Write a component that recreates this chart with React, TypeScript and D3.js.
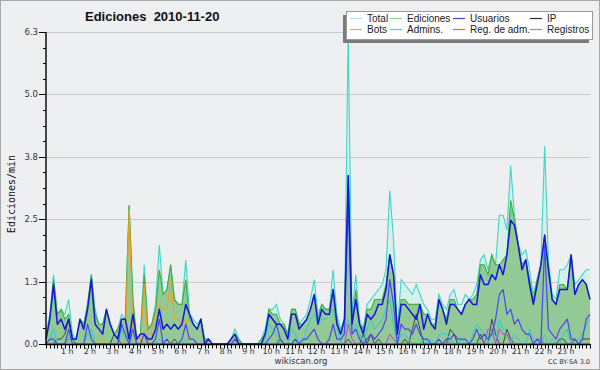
import React from 'react';
import * as d3 from 'd3';

const W = 600;
const H = 370;

const hourLabels = ['1 h','2 h','3 h','4 h','5 h','6 h','7 h','8 h','9 h','10 h','11 h','12 h','13 h','14 h','15 h','16 h','17 h','18 h','19 h','20 h','21 h','22 h','23 h'];
const yTickValues = [0, 1.26, 2.52, 3.78, 5.04, 6.3];
const yTickLabels = ['0.0', '1.3', '2.5', '3.8', '5.0', '6.3'];

// 10-minute slots, 00:00 .. 24:00 (edits per minute)
const total = [
  0.2,0.6,1.4,0.6,0.7,0.6, 0.9,0.2,0.1,0.5,0.4,0.8,
  1.4,0.7,0.4,0.4,0.7,0.4, 0.2,0.3,0.6,0.5,2.8,0.9,
  0.1,0.2,1.6,0.3,0.4,0.8, 2.0,1.0,1.1,1.6,0.9,0.8,
  0.8,1.7,0.6,0.5,0.4,0.5, 0.1,0.1,0,0,0,0,
  0,0.1,0.3,0.1,0,0, 0,0,0,0.1,0.3,0.7,
  0.7,0.8,0.5,0.4,0.2,0.7, 0.7,0.4,0.5,0.6,0.9,1.3,
  0.6,0.8,0.7,0.7,1.5,0.6, 0.3,0.5,6.3,0.6,1.4,0.5,
  0.3,0.8,0.9,1.0,1.1,1.2, 1.5,3.1,2.1,0.3,1.3,1.2,
  1.1,1.0,1.2,1.0,0.8,0.7, 0.5,0.5,1.0,0.8,0.7,1.0,
  1.1,0.8,0.8,1.0,0.9,1.0, 1.2,1.7,1.8,1.5,1.8,1.6,
  2.6,2.6,2.3,3.6,2.6,2.0, 1.8,1.9,1.5,1.0,1.3,1.6,
  4.0,1.7,1.0,0.9,1.5,1.5, 1.6,1.8,1.2,1.3,1.4,1.5,
  1.5
];
const ediciones = [
  0.1,0.5,1.3,0.6,0.7,0.5, 0.6,0.1,0.1,0.5,0.4,0.8,
  1.4,0.6,0.4,0.4,0.7,0.4, 0.2,0.3,0.5,0.5,2.8,0.9,
  0.1,0.2,1.4,0.3,0.4,0.7, 1.5,1.0,1.1,1.6,0.9,0.8,
  0.8,1.3,0.5,0.4,0.3,0.5, 0.1,0.1,0,0,0,0,
  0,0.1,0.2,0.1,0,0, 0,0,0,0.1,0.2,0.7,
  0.6,0.6,0.4,0.4,0.2,0.7, 0.7,0.4,0.4,0.5,0.7,1.0,
  0.5,0.8,0.7,0.7,1.1,0.5, 0.2,0.5,3.4,0.4,1.1,0.4,
  0.3,0.7,0.7,0.9,0.9,0.9, 1.2,1.8,1.4,0.3,0.9,0.9,
  0.8,0.8,0.8,0.8,0.6,0.6, 0.4,0.4,0.9,0.7,0.5,0.9,
  0.9,0.7,0.6,0.8,0.9,0.9, 1.0,1.6,1.6,1.4,1.8,1.6,
  1.6,1.7,1.8,2.9,2.5,2.0, 1.6,1.7,1.3,0.9,1.3,1.6,
  2.2,1.5,0.9,0.8,1.2,1.2, 1.1,1.8,1.0,1.2,1.3,1.2,
  0.9
];
const usuarios = [
  0.1,0.5,1.2,0.4,0.5,0.3, 0.5,0.1,0.1,0.5,0.3,0.7,
  1.3,0.4,0.3,0.2,0.7,0.4, 0.2,0.1,0.5,0.5,0.1,0.6,
  0.1,0.2,0.2,0.1,0.1,0.3, 0.7,0.3,0.4,0.3,0.4,0.3,
  0.4,0.8,0.6,0.4,0.3,0.5, 0,0.1,0,0,0,0,
  0,0.1,0.2,0,0,0, 0,0,0,0,0.2,0.6,
  0.5,0.4,0.4,0.3,0.1,0.6, 0.6,0.3,0.4,0.5,0.7,1.0,
  0.4,0.7,0.6,0.6,1.1,0.4, 0.2,0.5,3.4,0.4,0.9,0.4,
  0.2,0.6,0.5,0.6,0.8,0.8, 1.1,1.8,1.4,0.2,0.8,0.8,
  0.7,0.6,0.5,0.8,0.3,0.6, 0.4,0.3,0.9,0.7,0.4,0.8,
  0.8,0.7,0.6,0.8,0.9,0.8, 0.8,1.4,1.2,1.2,1.4,1.3,
  1.6,1.4,1.8,2.5,2.4,2.0, 1.5,1.7,1.2,0.8,1.2,1.6,
  2.2,1.5,0.9,0.8,1.1,1.1, 1.1,1.8,1.0,1.2,1.3,1.2,
  0.9
];
const ip = [
  0,0,0,0.1,0.1,0.2, 0.5,0.1,0,0,0,0,
  0,0,0,0,0,0, 0.2,0.1,0,0,0,0,
  0,0,0,0,0,0, 0,0,0,0,0.1,0,
  0,0,0,0,0,0, 0,0,0,0,0,0,
  0,0,0,0,0,0, 0,0,0,0,0,0,
  0,0,0.1,0,0,0, 0.1,0,0,0,0,0,
  0,0,0,0,0,0, 0,0,0.1,0,0,0,
  0.2,0,0.2,0,0.1,0, 0,0,0,0,0,0.1,
  0,0.3,0.6,0.3,0,0, 0,0,0,0,0,0.3,
  0.2,0,0,0,0,0, 0,0.2,0,0,0.5,0.2,
  0,0,0.3,0.1,0,0, 0,0,0,0,0,0,
  0,0,0,0,0.1,0.1, 0,0,0.1,0,0.1,0.1,
  0.1
];
const bots = [
  0,0,0,0,0,0, 0,0,0,0,0,0,
  0,0,0.1,0.1,0,0, 0,0,0,0,2.7,0.3,
  0,0,1.2,0,0.3,0.6, 0.8,0.7,0.7,1.3,0.5,0.5,
  0.4,0.5,0,0,0,0, 0,0,0,0,0,0,
  0,0,0,0,0,0, 0,0,0,0,0,0,
  0,0,0,0,0,0, 0,0,0,0,0,0,
  0,0,0,0,0,0, 0,0,0,0,0,0,
  0,0,0,0,0,0, 0,0,0,0,0,0,
  0,0,0,0,0,0, 0,0,0,0,0,0,
  0,0,0,0,0,0, 0,0,0,0,0,0,
  0,0,0,0,0,0, 0,0,0,0,0,0,
  0,0,0,0,0,0, 0,0,0,0,0,0,
  0
];
const admins = [
  0,0.1,0.3,0,0,0, 0.2,0,0,0,0,0.2,
  0.3,0,0,0,0,0, 0,0,0.3,0.1,0.2,0,
  0,0,0,0,0,0, 0.1,0,0,0,0,0,
  0,0.1,0,0,0,0, 0,0,0,0,0,0,
  0,0,0.1,0,0,0, 0,0,0,0,0.1,0.4,
  0.3,0.2,0,0,0,0.3, 0.2,0,0,0.3,0.5,0.6,
  0.4,0.5,0.5,0.6,0.7,0.4, 0,0.3,0.5,0.2,0.4,0.2,
  0,0.3,0.5,0.3,0.4,0.5, 0.7,0.9,0.4,0,0.2,0.2,
  0.1,0,0,0,0.1,0, 0.1,0,0.2,0.2,0.2,0.1,
  0,0,0.1,0,0,0.2, 0.4,0.3,0.2,0,0.3,0,
  0.5,0.3,0.2,0,0.2,0.1, 0,0,0.3,0.1,0,0,
  0.2,0,0.1,0,0,0.2, 0.3,0,0,0.1,0.2,0.4,
  0.5
];
const regAdm = [
  0,0,0,0,0,0, 0.1,0.1,0,0,0,0,
  0,0,0,0,0,0, 0,0,0,0,0,0,
  0,0,0,0,0,0, 0,0,0,0,0,0,
  0,0,0,0,0,0, 0,0,0,0,0,0,
  0,0,0,0,0,0, 0,0,0,0,0,0,
  0,0,0,0,0,0, 0,0,0,0,0,0,
  0,0,0,0,0,0, 0,0,0.4,0.1,0,0,
  0,0,0,0,0,0, 0,0.2,0.1,0,0,0,
  0,0,0,0,0,0, 0,0,0,0,0.1,0,
  0,0,0,0,0,0, 0,0,0,0.3,0.3,0,
  0.3,0.2,0.2,0,0,0, 0,0,0,0,0.1,0.1,
  0,0,0,0,0,0, 0,0,0,0,0,0,
  0
];
const registros = [
  0,0.1,0.1,0,0,0, 0.3,0,0,0,0,0.4,
  0.1,0,0,0,0,0, 0,0,0.4,0.2,0,0.3,
  0,0,0.2,0,0,0.1, 0.5,0,0.1,0,0,0,
  0.1,0.4,0.1,0.1,0,0, 0,0,0,0,0,0,
  0,0,0.1,0,0,0, 0,0,0,0,0,0.1,
  0.2,0.4,0.1,0,0,0, 0.1,0,0.1,0.1,0.2,0.3,
  0.1,0,0,0.1,0.4,0.1, 0.1,0.2,2.9,0.2,0.3,0.1,
  0,0.1,0.2,0.1,0.2,0.3, 0.5,1.3,0.8,0,0.4,0.3,
  0.3,0.2,0.4,0.2,0.1,0.1, 0,0,0.1,0,0.1,0.1,
  0.2,0.1,0.1,0.1,0,0.1, 0.3,0.1,0.2,0.1,0.2,0.5,
  1.0,1.1,0.6,0.7,0.4,0.5, 0.3,0.2,0.2,0,0.1,0,
  2.0,0.3,0.2,0.1,0.3,0.4, 0.5,0.1,0.1,0,0.1,0.5,
  0.6
];

const legendNames = ['Total', 'Ediciones', 'Usuarios', 'IP', 'Bots', 'Admins.', 'Reg. de adm.', 'Registros'];
const legendColors = ['#a6e6df', '#8fd48f', '#4646d6', '#303030', '#f5a544', '#4ccfe0', '#cf4fe6', '#8686ef'];

const FONT = '"DejaVu Sans", Verdana, sans-serif';
const NARROW = '"Liberation Sans", Arial, sans-serif';

export default function App() {
  const x = d3.scaleLinear().domain([0, 144]).range([46, 590]);
  const y = d3.scaleLinear().domain([0, 6.3]).range([344, 32]);

  const line = d3.line<number>().x((_, i) => x(i)).y((d) => y(d));
  const area = d3.area<number>().x((_, i) => x(i)).y0(y(0)).y1((d) => y(d));

  const minorY = d3.range(0, 21).map((k) => (6.3 * k) / 20);
  const minorX = d3.range(0, 145);

  const lineSeries: [number[], string, number][] = [
    [ip, '#444444', 1],
    [bots, '#ff9a1a', 1],
    [admins, '#2ecad8', 1],
    [regAdm, '#c040e0', 1],
    [registros, '#4848f0', 1.2],
    [usuarios, '#1616d8', 1.5],
  ];

  const legendCols = [350, 390, 453, 530];
  const legendRows = [18.5, 29.5];

  return (
    <div style={{ position: 'absolute', left: 0, top: 0 }}>
      <svg width={W} height={H} style={{ display: 'block' }}>
        <rect x={0.5} y={0.5} width={W - 1} height={H - 1} fill="#eeeff1" stroke="#a8a8a8" />
        {yTickValues.slice(1).map((v) => (
          <line key={'g' + v} x1={46} x2={590} y1={Math.round(y(v)) + 0.5} y2={Math.round(y(v)) + 0.5} stroke="#c9c9c9" strokeWidth={1} />
        ))}
        <path d={area(total) || ''} fill="#d6efea" />
        <path d={area(ediciones) || ''} fill="#93c995" />
        <path d={line(total) || ''} fill="none" stroke="#3ed6c6" strokeWidth={1.1} />
        <path d={line(ediciones) || ''} fill="none" stroke="#3fae3f" strokeWidth={1.1} />
        {lineSeries.map(([d, c, w], k) => (
          <path key={'s' + k} d={line(d) || ''} fill="none" stroke={c} strokeWidth={w} strokeLinejoin="round" />
        ))}
        <line x1={46} x2={46} y1={32} y2={345} stroke="#000" strokeWidth={1.4} />
        {minorY.map((v, k) => (
          <line key={'my' + k} x1={k % 4 === 0 ? 39 : 43} x2={46} y1={Math.round(y(v)) + 0.5} y2={Math.round(y(v)) + 0.5} stroke="#000" strokeWidth={1} />
        ))}
        {yTickValues.map((v, k) => (
          <text key={'yl' + k} x={38} y={y(v) + 3} textAnchor="end" fontFamily={FONT} fontSize={8.5} fill="#333">
            {yTickLabels[k]}
          </text>
        ))}
        <line x1={45} x2={590} y1={344.5} y2={344.5} stroke="#000" strokeWidth={1.5} />
        {minorX.map((i) => (
          <line key={'mx' + i} x1={Math.round(x(i)) + 0.5} x2={Math.round(x(i)) + 0.5} y1={344} y2={348.5} stroke="#000" strokeWidth={1} />
        ))}
        {hourLabels.map((t, k) => (
          <text key={'xl' + k} x={x((k + 1) * 6) - 1.5} y={354} textAnchor="middle" fontFamily={FONT} fontSize={7.8} fill="#333">
            {t}
          </text>
        ))}
        <text x={85} y={21} fontFamily={NARROW} fontWeight="bold" fontSize={13} fill="#111" style={{ whiteSpace: 'pre' }}>
          {'Ediciones  2010-11-20'}
        </text>
        <text transform="translate(15,194) rotate(-90)" textAnchor="middle" fontFamily='"DejaVu Sans Mono", monospace' fontSize={10} fill="#111">
          Ediciones/min
        </text>
        <text x={301} y={364} textAnchor="middle" fontFamily={FONT} fontSize={8.5} fill="#333">
          wikiscan.org
        </text>
        <text x={590} y={364} textAnchor="end" fontFamily={FONT} fontSize={6.5} fill="#333">
          CC BY-SA 3.0
        </text>
        <rect x={343} y={15} width={246} height={28} fill="#7a7a7a" />
        <rect x={346.5} y={11.5} width={246} height={28} fill="#ffffff" stroke="#9a9a9a" />
        {legendNames.map((n, k) => {
          const cx = legendCols[k % 4];
          const cy = legendRows[Math.floor(k / 4)];
          return (
            <g key={'lg' + k}>
              <line x1={cx} x2={cx + 12} y1={cy} y2={cy} stroke={legendColors[k]} strokeWidth={1.2} />
              <text x={cx + 17} y={cy + 3.5} fontFamily={NARROW} fontSize={10} fill="#222">
                {n}
              </text>
            </g>
          );
        })}
      </svg>
    </div>
  );
}
